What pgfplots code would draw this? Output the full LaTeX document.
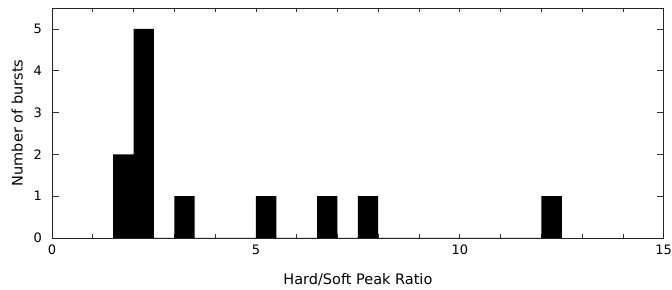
\documentclass[border=0pt]{standalone}
\usepackage{pgfplots}
\pgfplotsset{compat=1.18}
\usepackage{fontspec}
\setmainfont{DejaVu Sans}
\begin{document}
\begin{tikzpicture}
\begin{axis}[
  scale only axis,
  width=612pt, height=230pt,
  xmin=0, xmax=15, ymin=0, ymax=5.5,
  xtick={0,5,10,15},
  minor xtick={1,2,3,4,6,7,8,9,11,12,13,14},
  ytick={0,1,2,3,4,5},
  tick align=inside,
  xtick style={black!80, line width=0.7pt, /pgfplots/major tick length=4pt, /pgfplots/minor tick length=4pt},
  ytick style={black!80, line width=0.7pt, /pgfplots/major tick length=7pt},
  axis line style={line width=0.8pt, black!85},
  /pgf/number format/assume math mode=true,
  ticklabel style={font=\fontsize{13}{15}\selectfont, inner sep=0pt},
  xticklabel style={yshift=-7pt},
  yticklabel style={xshift=-10pt},
  label style={font=\fontsize{14.5}{17}\selectfont},
  xlabel={Hard/Soft Peak Ratio},
  ylabel={Number of bursts},
  xlabel style={at={(axis description cs:0.5,-0.2043)}, anchor=base},
  ylabel style={at={(axis description cs:-0.0479,0.5)}, anchor=base},
  clip=false,
]
\addplot[ybar interval, fill=black, draw=none] coordinates {
  (1.5,2) (2.0,5) (2.5,0) (3.0,1) (3.5,0) (5.0,1) (5.5,0) (6.5,1) (7.0,0) (7.5,1) (8.0,0) (12.0,1) (12.5,0)
};
\coordinate (bl) at (rel axis cs:0,0);
\coordinate (tr) at (rel axis cs:1,1);
\end{axis}
\path ([shift={(-52pt,-49pt)}]bl) rectangle ([shift={(8pt,8pt)}]tr);
\end{tikzpicture}
\end{document}
